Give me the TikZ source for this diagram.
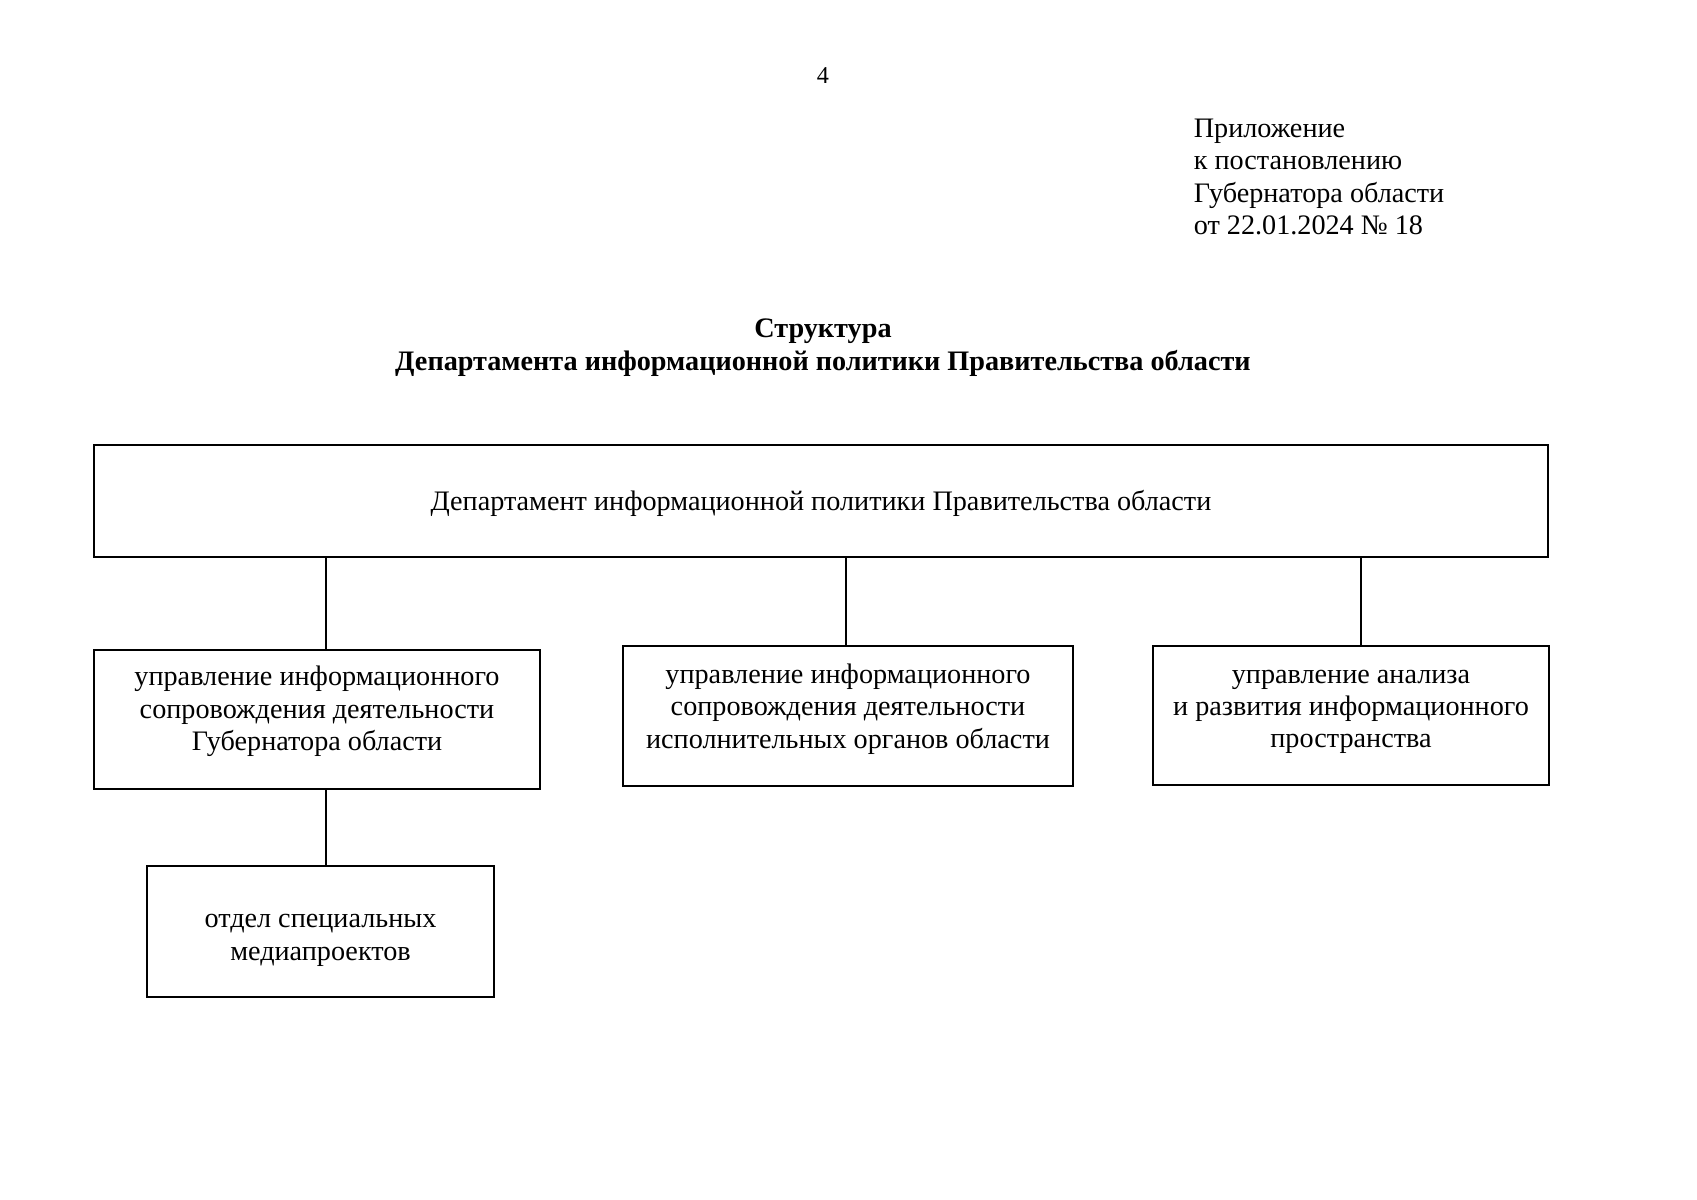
\documentclass[tikz,border=0pt]{standalone}
\usepackage{fontspec}
\setmainfont{Liberation Serif}
\usepackage{tikz}

\begin{document}
\begin{tikzpicture}[
    x=0.4963pt, y=-0.4963pt, line width=0.8pt,
    every node/.style={font=\fontsize{14}{16.1}\selectfont, align=center, inner sep=0pt},
    unit/.style={draw, rectangle},
    caption/.style={font=\fontsize{14}{16.4}\selectfont\bfseries}
]
\useasboundingbox (0,0) rectangle (1697,1200);
\node (page_number) [font=\fontsize{12}{14}\selectfont] at (823,76) {4};
\node (annex) [anchor=west, align=left] at (1193,177) {Приложение\\ к постановлению\\ Губернатора области\\ от 22.01.2024 № 18};
\node (title) [caption] at (823,347.5) {Структура\\ Департамента информационной политики Правительства области};
\node (dept) [unit, minimum width=721.6pt, minimum height=55.6pt] at (821,501) {};
\node (dept_text) at ([yshift=-1pt]dept.center) {Департамент информационной политики Правительства области};
\node (gov) [unit, minimum width=221.3pt, minimum height=69pt] at (317,719.5) {};
\node (gov_text) at ([yshift=4pt]gov.center) {управление информационного\\ сопровождения деятельности\\ Губернатора области};
\node (exec) [unit, minimum width=223.3pt, minimum height=69.5pt] at (848,716) {};
\node (exec_text) at ([yshift=3.5pt]exec.center) {управление информационного\\ сопровождения деятельности\\ исполнительных органов области};
\node (anal) [unit, minimum width=196.5pt, minimum height=69pt] at (1351,715.5) {};
\node (anal_text) at ([yshift=1.8pt]anal.center) {управление анализа\\ и развития информационного\\ пространства};
\node (media) [unit, minimum width=172.2pt, minimum height=65pt] at (320.5,931.5) {};
\node (media_text) at ([yshift=-4.3pt]media.center) {отдел специальных\\ медиапроектов};
\draw ([xshift=4.5pt]gov.north |- dept.south) -- ([xshift=4.5pt]gov.north);
\draw ([xshift=-1pt]exec.north |- dept.south) -- ([xshift=-1pt]exec.north);
\draw ([xshift=5pt]anal.north |- dept.south) -- ([xshift=5pt]anal.north);
\draw ([xshift=4.5pt]gov.south) -- ([xshift=4.5pt]gov.south |- media.north);
\end{tikzpicture}
\end{document}
